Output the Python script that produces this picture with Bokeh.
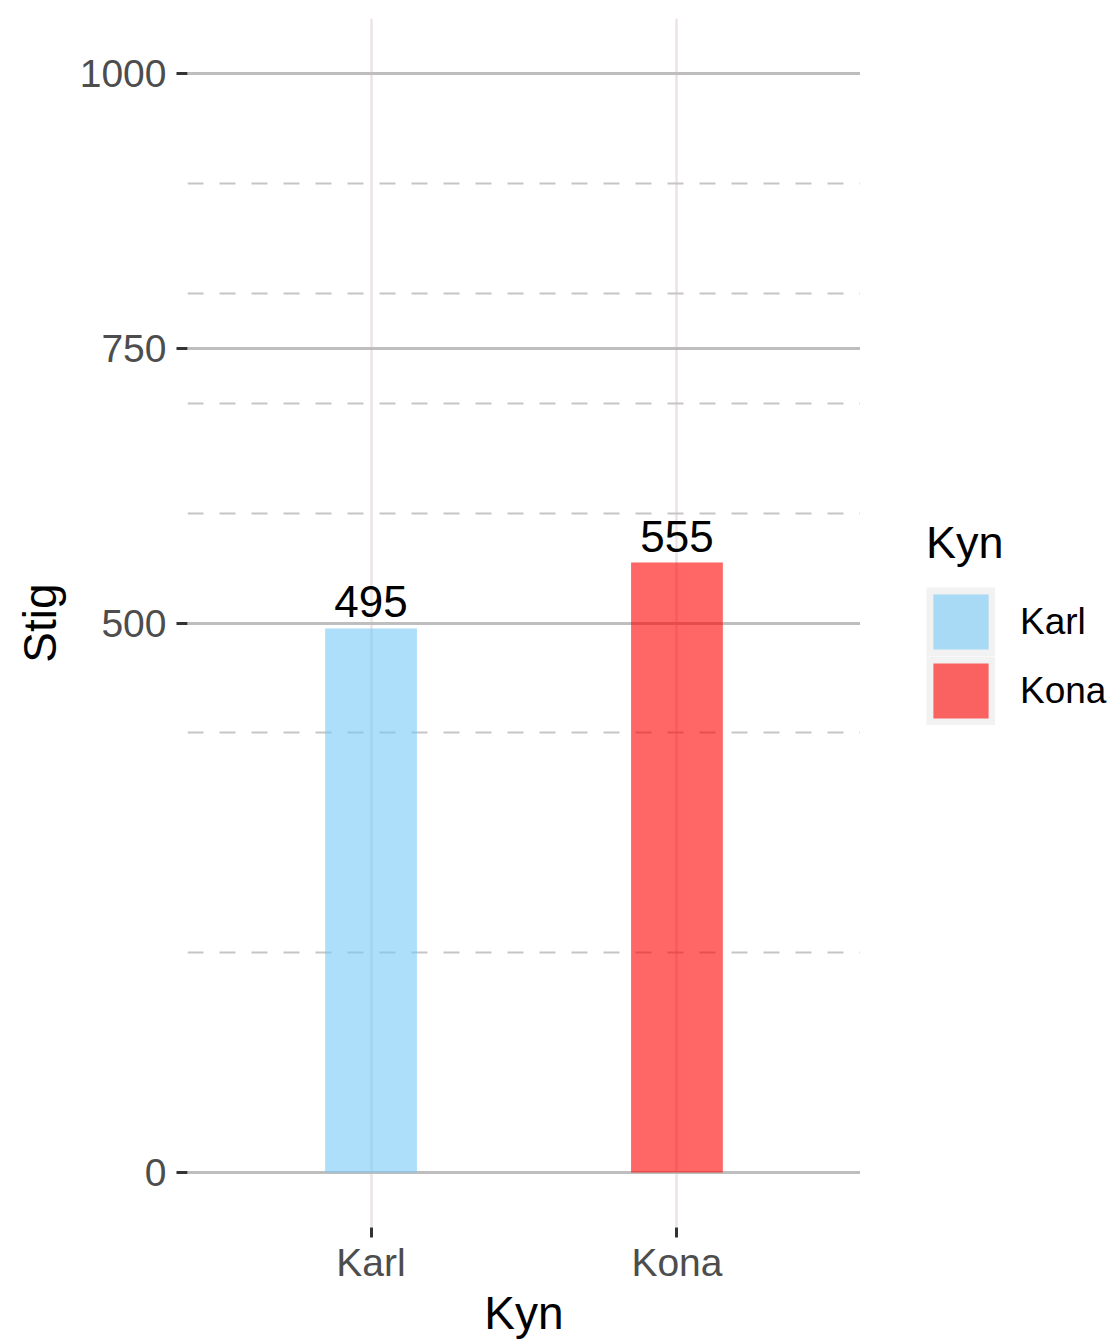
from bokeh.plotting import figure
from bokeh.layouts import row
from bokeh.models import (Range1d, FixedTicker, Grid, Legend, LegendItem,
                          ColumnDataSource)
from bokeh.core.properties import value
from bokeh.embed import file_html
from bokeh.resources import INLINE

# ---- data ----
categories = ["Karl", "Kona"]
values = [495, 555]
bar_colors = ["#76C8F7", "#FF0000"]
y_major_ticks = [0, 500, 750, 1000]
y_minor_ticks = [200, 400, 600, 700, 800, 900]
x_title = "Kyn"
y_title = "Stig"
legend_title = "Kyn"

FONT = "Liberation Sans"

x_pos = [i + 1 for i in range(len(categories))]
src = ColumnDataSource(dict(x=x_pos, top=values, color=bar_colors,
                            label=[str(v) for v in values], cat=categories))

# ---------------- main chart ----------------
p = figure(width=860, height=1343,
           x_range=Range1d(0.4, len(categories) + 0.6),
           y_range=Range1d(-50, 1050),
           output_backend="svg", toolbar_location=None,
           min_border_left=187, min_border_right=0,
           min_border_top=18, min_border_bottom=116)
p.background_fill_color = "white"
p.border_fill_color = "white"
p.outline_line_color = None

# grids
p.xgrid.ticker = FixedTicker(ticks=x_pos)
p.xgrid.grid_line_color = "#EDE3E3"
p.xgrid.grid_line_width = 2.5
p.ygrid.ticker = FixedTicker(ticks=y_major_ticks)
p.ygrid.grid_line_color = "#BEBEBE"
p.ygrid.grid_line_width = 3
minor = Grid(dimension=1, ticker=FixedTicker(ticks=y_minor_ticks),
             grid_line_color="#C6C6C6", grid_line_width=2,
             grid_line_dash="16 16")
p.add_layout(minor)

# bars
p.vbar(x="x", top="top", bottom=0, width=0.3, source=src,
       fill_color="color", fill_alpha=0.6, line_color=None)

# value labels
p.text(x="x", y="top", text="label", source=src,
       text_font=value(FONT), text_font_size="44px", text_color="black",
       text_align="center", text_baseline="bottom", y_offset=-11)

# axes
for ax in (p.xaxis, p.yaxis):
    ax.axis_line_color = None
    ax.major_tick_line_color = "#333333"
    ax.major_tick_line_width = 3
    ax.major_tick_in = 0
    ax.minor_tick_line_color = None
    ax.major_label_text_font = FONT
    ax.major_label_text_font_size = "39px"
    ax.major_label_text_color = "#4D4D4D"
    ax.axis_label_text_font = FONT
    ax.axis_label_text_font_size = "46px"
    ax.axis_label_text_color = "black"
    ax.axis_label_text_font_style = "normal"

p.xaxis.ticker = FixedTicker(ticks=x_pos)
p.xaxis.major_label_overrides = {xp: c for xp, c in zip(x_pos, categories)}
p.xaxis.major_tick_out = 10
p.xaxis.major_label_standoff = 3
p.xaxis.axis_label_standoff = 0
p.xaxis.axis_label = x_title

p.yaxis.ticker = FixedTicker(ticks=y_major_ticks)
p.yaxis.major_tick_out = 11
p.yaxis.major_label_standoff = 10
p.yaxis.axis_label_standoff = 11
p.yaxis.axis_label = y_title

# ---------------- legend panel ----------------
lg = figure(width=257, height=1343, x_range=Range1d(10, 11),
            y_range=Range1d(2000, 3000),  # keeps the helper glyphs off-screen
            x_axis_type=None, y_axis_type=None,
            output_backend="svg", toolbar_location=None,
            min_border=0)
lg.grid.visible = False
lg.outline_line_color = None
lg.background_fill_color = "white"
lg.border_fill_color = "white"

key_bg = lg.line(x=x_pos, y=values, line_color="#F2F2F2", line_width=69)
key_bars = lg.vbar(x="x", top="top", bottom=0, width=0.3, source=src,
                   fill_color="color", fill_alpha=0.6, line_color=None)

items = [LegendItem(label=c, renderers=[key_bg, key_bars], index=i)
         for i, c in enumerate(categories)]
legend = Legend(items=items, title=legend_title, location=(66, 502),
                orientation="vertical", glyph_width=69, glyph_height=69,
                spacing=0, padding=0, margin=0, label_standoff=25,
                border_line_color=None, background_fill_alpha=0,
                label_text_font=FONT, label_text_font_size="37px",
                label_text_color="black",
                title_text_font=FONT, title_text_font_size="45px",
                title_text_font_style="normal", title_text_color="black",
                title_standoff=18)
lg.add_layout(legend)

layout = row(p, lg, spacing=0)
open("out.html", "w").write(file_html(layout, INLINE))
